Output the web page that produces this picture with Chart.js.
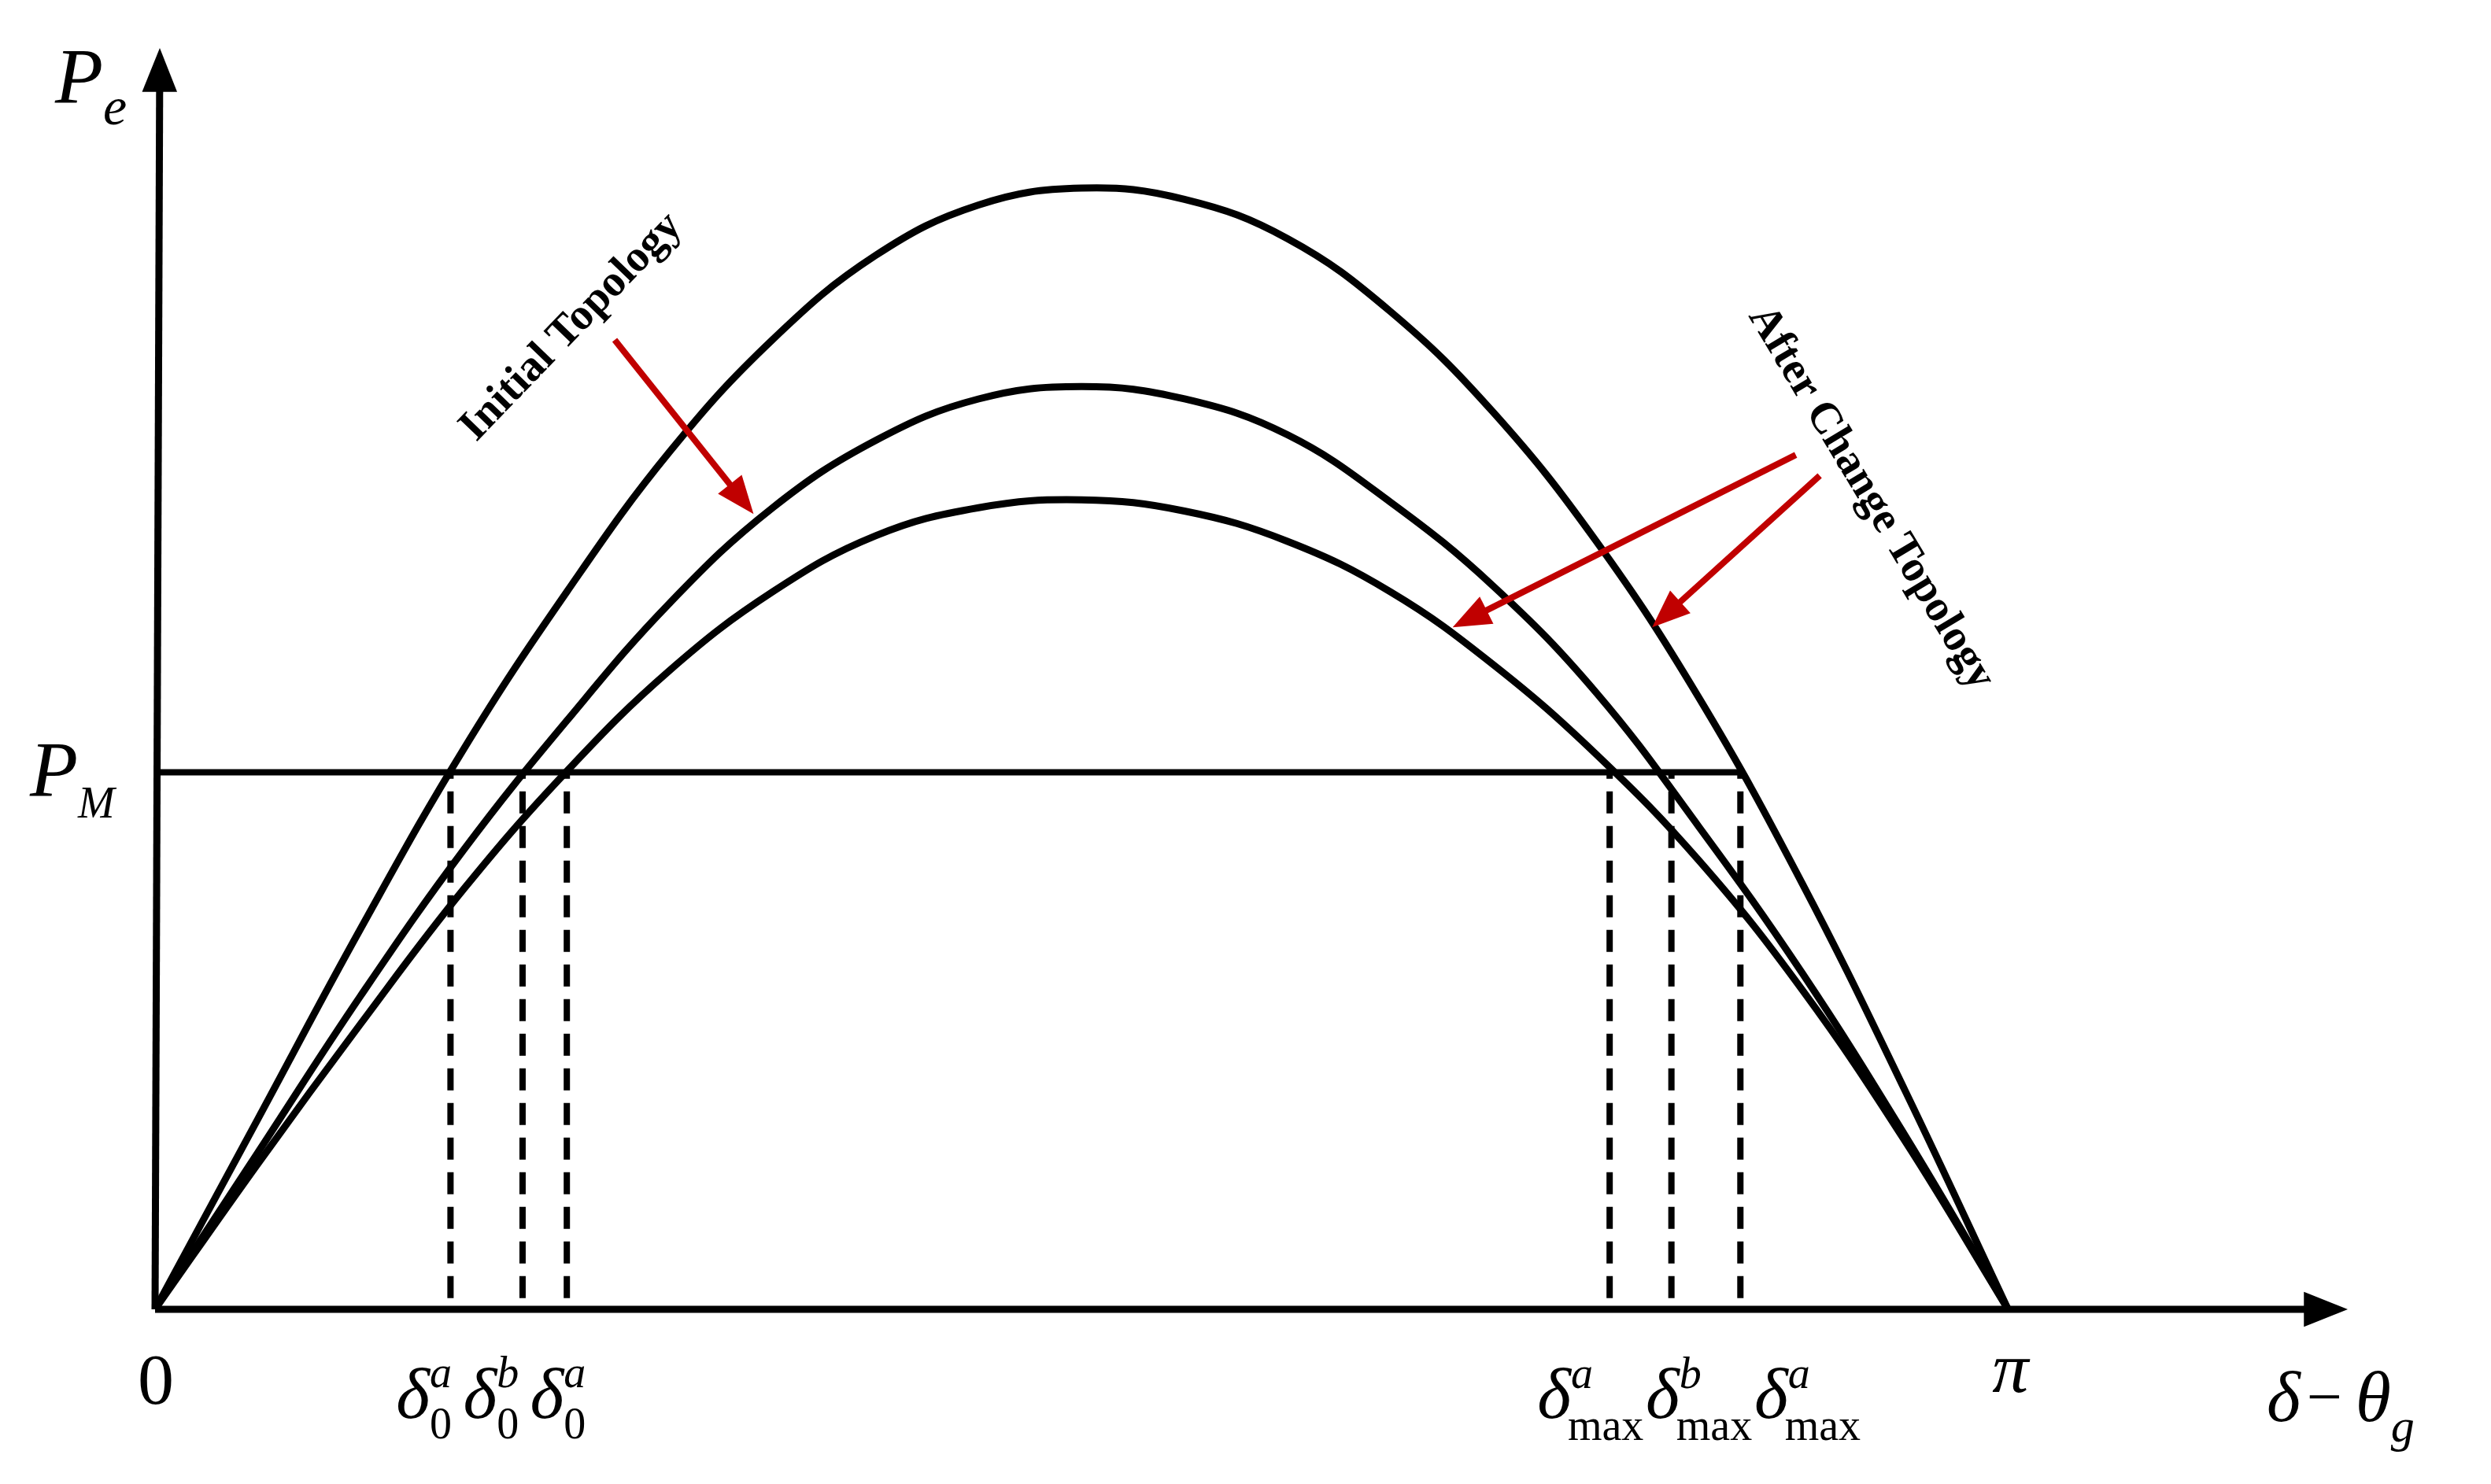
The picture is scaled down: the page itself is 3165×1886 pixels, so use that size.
<!DOCTYPE html>
<html><head><meta charset="utf-8">
<script src="https://cdn.jsdelivr.net/npm/chart.js@4"></script>
<style>html,body{margin:0;background:#fff}#wrap{width:3165px;height:1886px}</style>
</head><body><div id="wrap"><canvas id="c"></canvas></div>
<script>
// angle (deg, 0..180 = 0..pi) and Pe (top peak = 1)
var angles = [0,10,20,30,40,50,60,70,80,90,100,110,120,130,140,150,160,170,180];
var initialCurve = [0,0.17,0.34,0.50,0.64,0.765,0.865,0.94,0.985,1.0,0.99,0.955,0.89,0.80,0.685,0.545,0.38,0.195,0];
var changeCurveB = [0,0.14,0.28,0.41,0.525,0.63,0.715,0.775,0.812,0.823,0.812,0.78,0.72,0.645,0.55,0.43,0.30,0.155,0];
var changeCurveA = [0,0.13,0.255,0.375,0.48,0.57,0.64,0.69,0.715,0.722,0.712,0.685,0.64,0.575,0.495,0.40,0.285,0.15,0];
var PM = 0.479;
var deltaStarts = [28.7, 35.7, 40.0];
var deltaMax = [141.3, 147.3, 154.0];
var deltaSup = ['a','b','a'];

function pts(ys){ return angles.map(function(a,i){ return {x:a, y:ys[i]}; }); }
var datasets = [initialCurve, changeCurveB, changeCurveA].map(function(ys){
    return {data: pts(ys), borderColor:'#000', borderWidth:9, pointRadius:0, tension:0.4};
});
datasets.push({data:[{x:0,y:PM},{x:deltaMax[2],y:PM}], borderColor:'#000', borderWidth:8, pointRadius:0});
deltaStarts.concat(deltaMax).forEach(function(d){
    datasets.push({data:[{x:d,y:0.01},{x:d,y:PM}], borderColor:'#000', borderWidth:8, borderDash:[28,16], pointRadius:0});
});

// reference-picture helper (1560-wide sketch coords) -> canvas px
function ref(chart, x, y){
    var d = (x-97)/1161*180, v = (820-y)/702;
    return [chart.scales.x.getPixelForValue(d), chart.scales.y.getPixelForValue(v)];
}
function arrow(ctx, x1, y1, x2, y2, w, head, color){
    var a = Math.atan2(y2-y1, x2-x1);
    ctx.strokeStyle = color; ctx.fillStyle = color; ctx.lineWidth = w;
    ctx.beginPath(); ctx.moveTo(x1,y1); ctx.lineTo(x2-Math.cos(a)*head*0.8, y2-Math.sin(a)*head*0.8); ctx.stroke();
    ctx.beginPath(); ctx.moveTo(x2,y2);
    ctx.lineTo(x2-head*Math.cos(a-0.38), y2-head*Math.sin(a-0.38));
    ctx.lineTo(x2-head*Math.cos(a+0.38), y2-head*Math.sin(a+0.38));
    ctx.closePath(); ctx.fill();
}
function sub(ctx, base, s1, s2, x, y, big, small, italicSub){
    ctx.font = 'italic ' + big + 'px "Liberation Serif"';
    ctx.fillText(base, x, y);
    var w = ctx.measureText(base).width;
    if (s2) { ctx.font = 'italic ' + small + 'px "Liberation Serif"'; ctx.fillText(s2, x+w, y-big*0.42); }
    ctx.font = (italicSub ? 'italic ' : '') + small + 'px "Liberation Serif"';
    ctx.fillText(s1, x+w, y+big*0.28);
    return x + w + ctx.measureText(s1).width;
}

var decor = {
    id:'decor',
    afterDraw: function(chart){
        var ctx = chart.ctx, xs = chart.scales.x, ys = chart.scales.y;
        var ox = xs.getPixelForValue(0), oy = ys.getPixelForValue(0);
        ctx.save();
        arrow(ctx, ox, oy, xs.getPixelForValue(213), oy, 9, 60, '#000');
        arrow(ctx, ox, oy, ox+6, ys.getPixelForValue(1.125), 9, 60, '#000');
        ctx.fillStyle = '#000'; ctx.textBaseline = 'alphabetic';
        sub(ctx, 'P', 'e', null, 70, 130, 100, 68, true);
        sub(ctx, 'P', 'M', null, 38, ys.getPixelForValue(PM)+30, 100, 56, true);
        ctx.font = '92px "Liberation Serif"';
        ctx.fillText('0', ox-22, oy+120);
        ctx.font = 'italic 92px "Liberation Serif"';
        ctx.fillText('π', xs.getPixelForValue(180)-20, oy+105);
        var p = ref(chart, 1420, 890);
        ctx.font = 'italic 92px "Liberation Serif"'; ctx.fillText('δ', p[0], p[1]);
        var e = p[0] + ctx.measureText('δ').width;
        ctx.font = '80px "Liberation Serif"'; ctx.fillText('−', e+8, p[1]-4);
        sub(ctx, 'θ', 'g', null, e+70, p[1], 92, 60, true);
        var sx = 248;
        deltaSup.forEach(function(s){
            var q = ref(chart, sx, 888);
            sx += 42;
            sub(ctx, 'δ', '0', s, q[0], q[1], 92, 56, false);
        });
        sx = 963;
        deltaSup.forEach(function(s){
            var q = ref(chart, sx, 888);
            sx += 68;
            ctx.font = 'italic 92px "Liberation Serif"'; ctx.fillText('δ', q[0], q[1]);
            var w = ctx.measureText('δ').width;
            ctx.font = 'italic 56px "Liberation Serif"'; ctx.fillText(s, q[0]+w, q[1]-38);
            ctx.font = '56px "Liberation Serif"'; ctx.fillText('max', q[0]+w-4, q[1]+28);
        });
        var red = '#c00000';
        [[385,213,472,322],[1125,285,910,393],[1140,298,1035,393]].forEach(function(a){
            var s = ref(chart,a[0],a[1]), t = ref(chart,a[2],a[3]);
            arrow(ctx, s[0], s[1], t[0], t[1], 8, 52, red);
        });
        ctx.fillStyle = '#000'; ctx.textAlign = 'center'; ctx.textBaseline = 'middle';
        ctx.font = 'bold 56px "Liberation Serif"';
        var c1 = ref(chart, 358, 205);
        ctx.save(); ctx.translate(c1[0], c1[1]); ctx.rotate(-46*Math.PI/180); ctx.fillText('Initial Topology', 0, 0); ctx.restore();
        var c2 = ref(chart, 1172, 312);
        ctx.save(); ctx.translate(c2[0], c2[1]); ctx.rotate(59*Math.PI/180); ctx.fillText('After Change Topology', 0, 0); ctx.restore();
        ctx.restore();
    }
};

new Chart(document.getElementById('c'), {
    type:'line',
    data:{datasets:datasets},
    options:{
        responsive:true, maintainAspectRatio:false, animation:false,
        layout:{padding:{left:197, right:182, top:61, bottom:222}},
        plugins:{legend:{display:false}, tooltip:{enabled:false}},
        scales:{
            x:{type:'linear', min:0, max:213, display:false},
            y:{min:0, max:1.125, display:false}
        }
    },
    plugins:[decor]
});
</script></body></html>
